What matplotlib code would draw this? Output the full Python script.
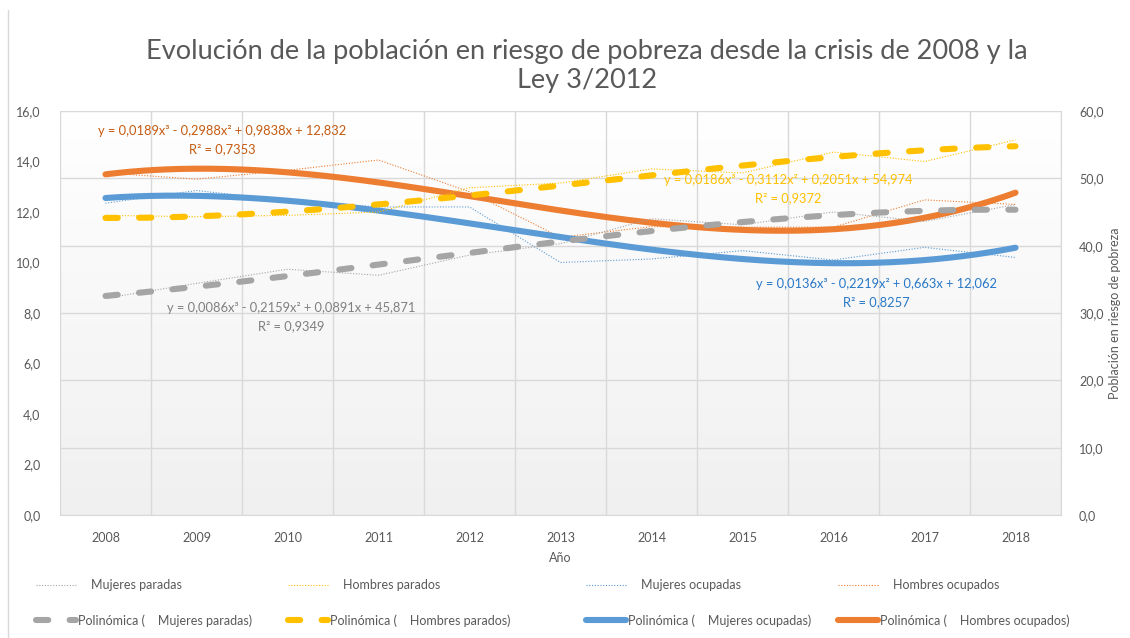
import numpy as np
import matplotlib
matplotlib.use("Agg")
import matplotlib.pyplot as plt
from matplotlib.colors import LinearSegmentedColormap
from matplotlib.lines import Line2D

plt.rcParams['font.family'] = ['Lato', 'DejaVu Sans']

years = ["2008", "2009", "2010", "2011", "2012", "2013", "2014", "2015", "2016", "2017", "2018"]

# series
mujeres_paradas = [32.2, 34.4, 36.5, 35.6, 38.6, 40.3, 44.0, 43.1, 45.0, 43.6, 46.1]   # right axis
hombres_parados = [44.5, 44.3, 44.5, 45.0, 48.6, 49.3, 51.4, 50.8, 53.9, 52.5, 55.7]   # right axis
mujeres_ocupadas = [12.35, 12.85, 12.45, 12.2, 12.2, 10.0, 10.14, 10.47, 10.1, 10.6, 10.2]  # left axis
hombres_ocupados = [13.55, 13.3, 13.65, 14.06, 12.8, 11.0, 11.42, 11.4, 11.4, 12.48, 12.3]  # left axis

names = ["    Mujeres paradas", "    Hombres parados", "    Mujeres ocupadas", "    Hombres ocupados"]
colors = ["#a5a5a5", "#ffc000", "#5b9bd5", "#ed7d31"]

eq_gray = ["y = 0,0086x³ - 0,2159x² + 0,0891x + 45,871", "R² = 0,9349"]
eq_yellow = ["y = 0,0186x³ - 0,3112x² + 0,2051x + 54,974", "R² = 0,9372"]
eq_blue = ["y = 0,0136x³ - 0,2219x² + 0,663x + 12,062", "R² = 0,8257"]
eq_orange = ["y = 0,0189x³ - 0,2988x² + 0,9838x + 12,832", "R² = 0,7353"]

W, H = 1130, 638
txt = "#595959"
grid = "#d9d9d9"

fig = plt.figure(figsize=(W / 100, H / 100), dpi=100)
ax1 = fig.add_axes([60 / W, 1 - 515 / H, 1001 / W, 404 / H])
ax2 = ax1.twinx()

# plot area gradient
cmap = LinearSegmentedColormap.from_list("bg", ["#f0f0f0", "#ffffff"])
ax1.imshow(np.linspace(0, 1, 256).reshape(-1, 1), extent=[-0.5, 10.5, 0, 16],
           aspect="auto", origin="lower", cmap=cmap, zorder=0)

ax1.set_xlim(-0.5, 10.5)
ax1.set_ylim(0, 16)
ax2.set_ylim(0, 60)

yt1 = np.arange(0, 17, 2)
yt2 = np.arange(0, 61, 10)
ax1.set_yticks(yt1)
ax1.set_yticklabels([f"{v:.1f}".replace(".", ",") for v in yt1])
ax2.set_yticks(yt2)
ax2.set_yticklabels([f"{v:.1f}".replace(".", ",") for v in yt2])
ax1.set_xticks(range(len(years)))
ax1.set_xticklabels(years)

ax1.tick_params(axis="both", length=0, colors=txt, labelsize=9)
ax1.tick_params(axis="y", pad=14)
ax1.tick_params(axis="x", pad=12)
ax2.tick_params(axis="y", length=0, colors=txt, labelsize=9, pad=13)

# gridlines: horizontal follow the secondary axis, vertical between categories
for t in yt2:
    ax1.axhline(t * 16 / 60, color=grid, lw=1, zorder=1)
for b in np.arange(-0.5, 11, 1):
    ax1.axvline(b, color=grid, lw=1, zorder=1)

for ax in (ax1, ax2):
    for s in ax.spines.values():
        s.set_visible(False)
ax2.spines["bottom"].set_visible(True)
ax2.spines["bottom"].set_color(grid)
ax2.spines["right"].set_visible(True)
ax2.spines["right"].set_color(grid)
ax2.patch.set_visible(False)

ax1.set_xlabel("Año", color=txt, fontsize=9, labelpad=6)
ax2.set_ylabel("Población en riesgo de pobreza", color=txt, fontsize=9, labelpad=4)

x = np.arange(len(years))
xs = np.linspace(0, len(years) - 1, 300)

series = [(ax2, mujeres_paradas), (ax2, hombres_parados), (ax1, mujeres_ocupadas), (ax1, hombres_ocupados)]
raw_h = []
trend_h = []
for i, (ax, vals) in enumerate(series):
    l, = ax.plot(x, vals, color=colors[i], lw=0.8, linestyle=(0, (1, 1.5)), zorder=2)
    raw_h.append(l)
    # cubic trend, as the spreadsheet does it
    coef = np.polyfit(x + 1, vals, 3)
    if i < 2:
        t, = ax.plot(xs, np.polyval(coef, xs + 1), color=colors[i], lw=4.4,
                     linestyle=(0, (2.0, 3.5)), dash_capstyle="round", zorder=3)
    else:
        t, = ax.plot(xs, np.polyval(coef, xs + 1), color=colors[i], lw=4.4,
                     solid_capstyle="round", zorder=3)
    trend_h.append(t)

# trend equations
def eq(lines, cx, cy, color):
    fig.text(cx / W, 1 - cy / H, lines[0], ha="center", va="center", fontsize=9.3, color=color)
    fig.text(cx / W, 1 - (cy + 18) / H, lines[1], ha="center", va="center", fontsize=9.3, color=color)

eq(eq_orange, 222, 131, "#c55a11")
eq(eq_gray, 291, 308, "#7f7f7f")
eq(eq_yellow, 788, 180, "#ffc000")
eq(eq_blue, 876, 284, "#2878c8")

fig.text(587 / W, 1 - 66 / H, "Evolución de la población en riesgo de pobreza desde la crisis de 2008 y la\nLey 3/2012",
         ha="center", va="center", fontsize=19.5, color=txt, linespacing=1.2)

# legend: one block per column
col_x = [36, 288, 586, 838]
for i in range(4):
    fig.legend([raw_h[i], trend_h[i]], [names[i], "Polinómica (" + names[i] + ")"],
               loc="upper left", bbox_to_anchor=(col_x[i] / W, 1 - 579 / H),
               frameon=False, fontsize=9, labelcolor=txt, borderpad=0, borderaxespad=0,
               handlelength=3.2, handletextpad=0.15, labelspacing=1.85)

fig.add_artist(Line2D([8 / W, 8 / W], [0, 1 - 10 / H], color=grid, lw=1))

fig.savefig("out.png", dpi=100)
